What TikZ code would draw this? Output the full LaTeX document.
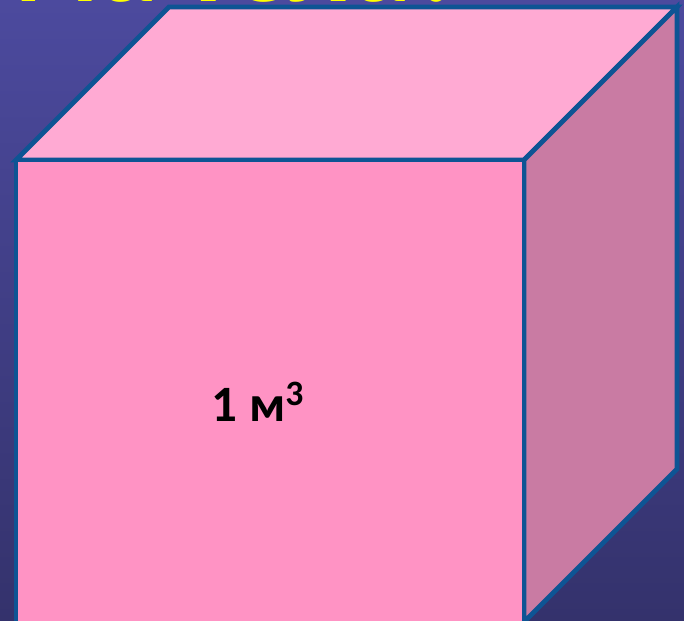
\documentclass[tikz,border=0pt]{standalone}
\usepackage{fontspec}
\setmainfont{Carlito}
\usepackage{tikz}
\definecolor{bgtop}{RGB}{76,74,158}
\definecolor{bgbottom}{RGB}{52,50,108}
\definecolor{title}{RGB}{255,255,0}
\definecolor{edge}{RGB}{14,84,148}
\definecolor{facefront}{RGB}{255,147,196}
\definecolor{facetop}{RGB}{255,170,211}
\definecolor{faceside}{RGB}{201,123,163}

\begin{document}
\begin{tikzpicture}[x=0.02cm, y=-0.02cm]
  \useasboundingbox (0,0) rectangle (684,621);
  \clip (0,0) rectangle (684,621);
  \shade[top color=bgtop, bottom color=bgbottom] (0,0) rectangle (684,621);
  % title, mostly hidden behind the cube
  \node[anchor=base west, inner sep=0pt, text=title, font=\bfseries\fontsize{68}{80}\selectfont] (heading) at (14,2) {ма тела?};
  % cube
  \filldraw[fill=facetop, draw=edge, line width=2.8pt, line join=miter] (16,160) -- (169,7) -- (677,7) -- (524,160) -- cycle;
  \filldraw[fill=faceside, draw=edge, line width=2.8pt, line join=miter] (524,160) -- (677,7) -- (677,469) -- (524,622) -- cycle;
  \filldraw[fill=facefront, draw=edge, line width=2.8pt, line join=miter] (16,160) rectangle (524,660);
  \node[font=\bfseries\fontsize{29}{34}\selectfont] (volume) at (258,402) {1 м\textsuperscript{3}};
\end{tikzpicture}
\end{document}
